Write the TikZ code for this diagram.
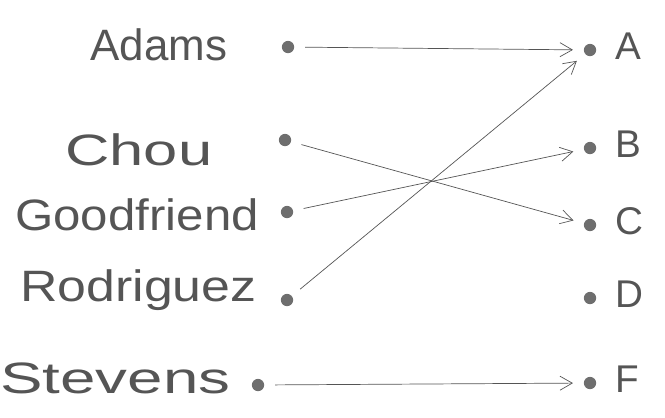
\documentclass[tikz,border=0pt]{standalone}
\usepackage{fontspec}
\setmainfont{Liberation Sans}
\usepackage{tikz}
\usetikzlibrary{arrows.meta,positioning}
\definecolor{pencil}{RGB}{85,85,85}
\definecolor{dotgray}{RGB}{110,110,110}

\begin{document}
\begin{tikzpicture}[x=0.02cm,y=-0.02cm,
    person/.style={font=\fontsize{25}{28}\selectfont, text=pencil, anchor=west, inner sep=0pt},
    letter/.style={font=\fontsize{22}{26}\selectfont, text=pencil, anchor=west, inner sep=0pt},
    pt/.style={circle, fill=dotgray, minimum size=7pt, inner sep=0pt},
    map/.style={-{Straight Barb[length=7pt,width=8pt]}, pencil, thin, shorten <=6pt, shorten >=6pt},
]
    \useasboundingbox (0,0) rectangle (665,417);
    % Names
    \node[person] (adams) at (90,45) {Adams};
    \node[person] (chou) at (65,150) {\scalebox{1.4}[1]{Chou}};
    \node[person] (goodfriend) at (15,215) {\scalebox{1.12}[1]{Goodfriend}};
    \node[person] (rodriguez) at (20,290) {\scalebox{1.18}[1]{Rodriguez}};
    \node[person] (stevens) at (0,378) {\scalebox{1.45}[1]{Stevens}};
    % Points on the left
    \node[pt] (padams) at (288,47) {};
    \node[pt] (pchou) at (285,140) {};
    \node[pt] (pgoodfriend) at (287,212) {};
    \node[pt] (prodriguez) at (287,300) {};
    \node[pt] (pstevens) at (258,385) {};
    % Points on the right
    \foreach \l/\y in {A/50,B/148,C/225,D/298,F/383} {
        \node[pt] (t\l) at (590,\y) {};
        \node[letter] (l\l) at (615,\y-4) {\l};
    }
    % Arrows
    \draw[map] (padams) -- (tA);
    \draw[map] (pchou) -- (tC);
    \draw[map] (pgoodfriend) -- (tB);
    \draw[map] (prodriguez) -- (tA);
    \draw[map] (pstevens) -- (tF);
\end{tikzpicture}
\end{document}
